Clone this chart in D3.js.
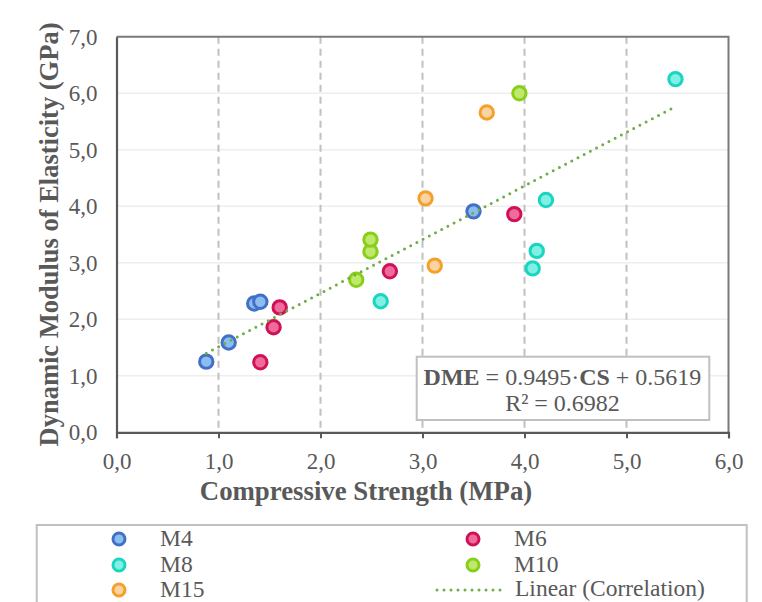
<!DOCTYPE html>
<html>
<head>
<meta charset="utf-8">
<script src="https://cdn.jsdelivr.net/npm/d3@7"></script>
<style>
  html, body { margin: 0; padding: 0; background: #ffffff; }
  svg { display: block; }
  text { font-family: "Liberation Serif", "Times New Roman", serif; fill: #595959; }
</style>
</head>
<body>
<svg id="chart" width="762" height="602"></svg>
<script>
// Compressive strength (MPa) and dynamic modulus of elasticity (GPa) per mix
const m4X  = [0.88, 1.10, 1.35, 1.41, 3.50];
const m4Y  = [1.25, 1.59, 2.28, 2.31, 3.91];
const m6X  = [1.41, 1.54, 1.60, 2.68, 3.90];
const m6Y  = [1.24, 1.86, 2.21, 2.85, 3.86];
const m8X  = [2.59, 4.08, 4.12, 4.21, 5.48];
const m8Y  = [2.32, 2.90, 3.21, 4.11, 6.25];
const m10X = [2.35, 2.49, 2.49, 3.95];
const m10Y = [2.70, 3.20, 3.41, 6.00];
const m15X = [3.03, 3.12, 3.63];
const m15Y = [4.14, 2.95, 5.66];

const seriesNames = ["M4", "M6", "M8", "M10", "M15"];
const xTicks = [0, 1, 2, 3, 4, 5, 6];
const yTicks = [0, 1, 2, 3, 4, 5, 6, 7];

// Linear fit: DME = slope * CS + intercept
const slope = 0.9495;
const intercept = 0.5619;
const rSquared = 0.6982;

const xTitle = "Compressive Strength (MPa)";
const yTitle = "Dynamic Modulus of Elasticity (GPa)";
const trendName = "Linear (Correlation)";

const series = [
  { name: seriesNames[0], xs: m4X,  ys: m4Y,  stroke: "#4270c6", fill: "#8cbdf1" },
  { name: seriesNames[1], xs: m6X,  ys: m6Y,  stroke: "#cf1157", fill: "#ef6b9b" },
  { name: seriesNames[2], xs: m8X,  ys: m8Y,  stroke: "#1ad5c0", fill: "#7ff0e2" },
  { name: seriesNames[3], xs: m10X, ys: m10Y, stroke: "#88cf1a", fill: "#bfe86c" },
  { name: seriesNames[4], xs: m15X, ys: m15Y, stroke: "#f4a02a", fill: "#f9d4a2" }
];
const trendColor = "#70ad47";

const svg = d3.select("#chart");
const plotL = 116.5, plotR = 728.5, plotT = 36.7, plotB = 432.3;

const x = d3.scaleLinear().domain([0, 6]).range([plotL, plotR]);
const y = d3.scaleLinear().domain([0, 7]).range([plotB, plotT]);
const fmt = v => d3.format(".1f")(v).replace(".", ",");

// horizontal gridlines
svg.append("g").selectAll("line").data(yTicks.slice(1, -1)).join("line")
  .attr("x1", plotL).attr("x2", plotR)
  .attr("y1", d => y(d)).attr("y2", d => y(d))
  .attr("stroke", "#eeeeee").attr("stroke-width", 1.5);

// vertical dashed gridlines
svg.append("g").selectAll("line").data(xTicks.slice(1, -1)).join("line")
  .attr("x1", d => x(d)).attr("x2", d => x(d))
  .attr("y1", plotT).attr("y2", plotB)
  .attr("stroke", "#c0c0c0").attr("stroke-width", 2)
  .attr("stroke-dasharray", "7,5");

// plot frame (top and right)
svg.append("path")
  .attr("d", `M${plotL},${plotT}H${plotR}V${plotB}`)
  .attr("fill", "none").attr("stroke", "#7a7a7a").attr("stroke-width", 2);

// x axis
const xAxis = svg.append("g").attr("transform", `translate(0,${plotB})`)
  .call(d3.axisBottom(x).tickValues(xTicks).tickFormat(fmt).tickSize(6).tickPadding(14));
xAxis.select(".domain").attr("stroke", "#595959").attr("stroke-width", 2.2);
xAxis.selectAll(".tick line").attr("stroke", "#595959").attr("stroke-width", 2);
xAxis.selectAll(".tick text").attr("font-size", 23).attr("fill", "#595959")
  .attr("font-family", "Liberation Serif, serif");

// y axis
const yAxis = svg.append("g").attr("transform", `translate(${plotL},0)`)
  .call(d3.axisLeft(y).tickValues(yTicks).tickFormat(fmt).tickSize(0).tickPadding(19));
yAxis.select(".domain").attr("stroke", "#595959").attr("stroke-width", 2.2);
yAxis.selectAll(".tick text").attr("font-size", 23).attr("fill", "#595959")
  .attr("font-family", "Liberation Serif, serif");

// axis titles
svg.append("text")
  .attr("x", 366).attr("y", 500)
  .attr("text-anchor", "middle").attr("font-size", 26.8).attr("font-weight", "bold")
  .text(xTitle);
svg.append("text")
  .attr("transform", `translate(58,${(plotT + plotB) / 2}) rotate(-90)`)
  .attr("text-anchor", "middle").attr("font-size", 26.5).attr("font-weight", "bold")
  .text(yTitle);

// data points
series.forEach(s => {
  svg.append("g").selectAll("circle").data(s.xs.map((v, i) => [v, s.ys[i]])).join("circle")
    .attr("cx", d => x(d[0])).attr("cy", d => y(d[1])).attr("r", 6.7)
    .attr("fill", s.fill).attr("stroke", s.stroke).attr("stroke-width", 3);
});

// trend line across the data range
const allX = series.flatMap(s => s.xs);
const xMin = d3.min(allX), xMax = d3.max(allX);
svg.append("line")
  .attr("x1", x(xMin)).attr("y1", y(slope * xMin + intercept))
  .attr("x2", x(xMax)).attr("y2", y(slope * xMax + intercept))
  .attr("stroke", trendColor).attr("stroke-width", 3)
  .attr("stroke-linecap", "round").attr("stroke-dasharray", "0,7");

// equation box
const eqBox = svg.append("g");
eqBox.append("rect")
  .attr("x", 416.7).attr("y", 356.7).attr("width", 292.6).attr("height", 63.3)
  .attr("fill", "#ffffff").attr("stroke", "#c0c0c0").attr("stroke-width", 2);
const eq1 = eqBox.append("text").attr("x", 562.5).attr("y", 384.5)
  .attr("text-anchor", "middle").attr("font-size", 24);
eq1.append("tspan").attr("font-weight", "bold").text("DME");
eq1.append("tspan").text(" = " + slope.toFixed(4) + "·");
eq1.append("tspan").attr("font-weight", "bold").text("CS");
eq1.append("tspan").text(" + " + intercept.toFixed(4));
eqBox.append("text").attr("x", 562.5).attr("y", 411)
  .attr("text-anchor", "middle").attr("font-size", 24)
  .text("R² = " + rSquared.toFixed(4));

// legend
const legend = svg.append("g");
legend.append("rect")
  .attr("x", 36.7).attr("y", 525).attr("width", 710).attr("height", 90)
  .attr("fill", "#ffffff").attr("stroke", "#c0c0c0").attr("stroke-width", 2);
const legendSlots = [
  [119, 539], [473, 539],
  [119, 565], [473, 565],
  [119, 590]
];
series.forEach((s, i) => {
  const [lx, ly] = legendSlots[i];
  legend.append("circle").attr("cx", lx).attr("cy", ly).attr("r", 6)
    .attr("fill", s.fill).attr("stroke", s.stroke).attr("stroke-width", 3);
  legend.append("text").attr("x", lx + 41).attr("y", ly + 7)
    .attr("font-size", 23.5).text(s.name);
});
legend.append("line")
  .attr("x1", 437).attr("x2", 507).attr("y1", 590).attr("y2", 590)
  .attr("stroke", trendColor).attr("stroke-width", 3)
  .attr("stroke-linecap", "round").attr("stroke-dasharray", "0,7");
legend.append("text").attr("x", 515).attr("y", 596)
  .attr("font-size", 23.5).text(trendName);
</script>
</body>
</html>
